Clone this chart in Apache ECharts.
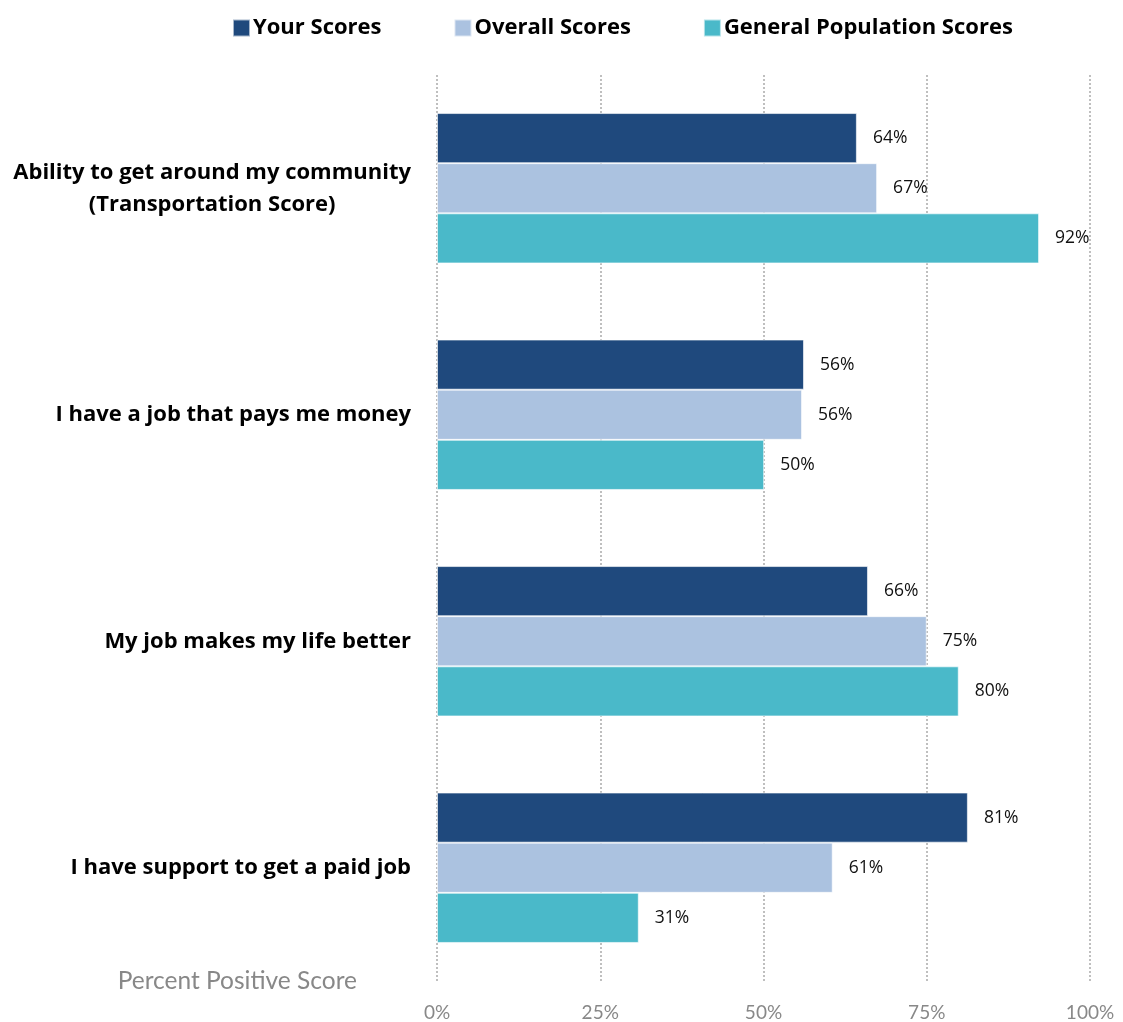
<!DOCTYPE html>
<html><head><meta charset="utf-8">
<script src="https://cdn.jsdelivr.net/npm/echarts@6/dist/echarts.min.js"></script>
<style>html,body{margin:0;padding:0;background:#fff}#c{width:1123px;height:1022px}</style>
</head><body><div id="c"></div>
<script>
const categories = ['Ability to get around my community\n(Transportation Score)', 'I have a job that pays me money', 'My job makes my life better', 'I have support to get a paid job'];
const seriesNames = ['Your Scores', 'Overall Scores', 'General Population Scores'];
const yourScores = [64.3, 56.2, 66.0, 81.3];
const overallScores = [67.4, 55.9, 75.0, 60.6];
const generalScores = [92.2, 50.1, 79.9, 30.9];
const colors = ['#1F497D', '#ABC2E0', '#4AB9C9'];
const xTicks = [0, 25, 50, 75, 100];

const chart = echarts.init(document.getElementById('c'));
const values = [yourScores, overallScores, generalScores];
const series = seriesNames.map((n, i) => ({
  name: n, type: 'bar', data: values[i],
  barGap: '0%', barCategoryGap: '33.6%',
  itemStyle: { color: colors[i], borderColor: 'rgba(255,255,255,0.6)', borderWidth: 1 },
  label: { show: true, position: 'right', distance: 16, formatter: p => Math.round(p.value) + '%',
    fontFamily: 'Open Sans', fontSize: 17.5, color: '#111' }
}));
chart.setOption({
  animation: false,
  legend: {
    data: seriesNames, top: 12, left: 227, itemWidth: 17, itemHeight: 17, itemGap: 72,
    icon: 'rect',
    textStyle: { fontFamily: 'Open Sans', fontWeight: 'bold', fontSize: 22, color: '#000', padding: [0, 0, 0, -2] }
  },
  grid: { left: 437, right: 33, top: 75, bottom: 41, containLabel: false },
  xAxis: {
    type: 'value', min: 0, max: 100, interval: 25,
    name: 'Percent Positive Score', nameLocation: 'start', nameGap: 80,
    nameTextStyle: { fontFamily: 'Lato', fontSize: 24.5, color: '#888', verticalAlign: 'middle', padding: [24, 0, 0, 0] },
    axisLine: { show: false }, axisTick: { show: false },
    axisLabel: { formatter: v => xTicks.includes(v) ? v + '%' : '', fontFamily: 'Lato', fontSize: 19, color: '#888', margin: 22 },
    splitLine: { show: true, lineStyle: { type: [2, 2], color: '#aaa', width: 1.5 } }
  },
  yAxis: {
    type: 'category', data: categories, inverse: true,
    axisLine: { show: false }, axisTick: { show: false },
    axisLabel: {
      margin: 26, align: 'right',
      formatter: v => v.split('\n').map(s => '{c|' + s + '}').join('\n'),
      rich: { c: { fontFamily: 'Open Sans', fontWeight: 'bold', fontSize: 22, color: '#000', align: 'center', lineHeight: 32 } }
    }
  },
  series
});
</script></body></html>
